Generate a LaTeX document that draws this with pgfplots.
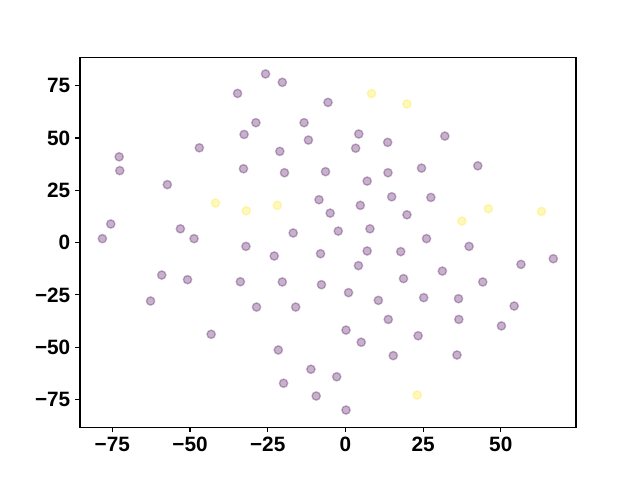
\documentclass[border=0pt]{standalone}
\usepackage{pgfplots}
\pgfplotsset{compat=1.18}
\usepackage{fontspec}
\setmainfont{Liberation Sans}
\definecolor{vlow}{HTML}{440154}
\definecolor{vhigh}{HTML}{FDE725}

\begin{document}
\begin{tikzpicture}
\useasboundingbox (0,0) rectangle (6.4in,4.8in);
\begin{axis}[
  at={(0.8in,0.528in)},anchor=south west,
  scale only axis,width=4.96in,height=3.696in,
  xmin=-85.4,xmax=74.2,ymin=-88.2,ymax=88.4,
  xtick={-75,-50,-25,0,25,50},
  xticklabels={−75,−50,−25,0,25,50},
  ytick={-75,-50,-25,0,25,50,75},
  yticklabels={−75,−50,−25,0,25,50,75},
  xtick pos=bottom,ytick pos=left,
  tick align=outside,major tick length=3.5pt,
  tick style={line width=0.8pt,black},
  axis line style={line width=0.8pt},
  ticklabel style={font=\bfseries\fontsize{15}{18}\selectfont},
  scatter/use mapped color={},
  mark size=3pt]
\addplot[only marks,mark=*,mark options={line width=1pt,draw=vlow,fill=vlow,opacity=0.3}] coordinates {
(-34.7,71.3)(-32.6,51.7)(-47.0,45.3)(-72.8,41.0)(-72.6,34.4)(-32.8,35.3)
(-57.3,27.7)(-75.5,8.9)(-53.1,6.6)(-78.2,1.9)(-48.7,1.9)(-25.7,80.6)
(-20.3,76.6)(-5.6,67.0)(-28.8,57.3)(-13.3,57.3)(-11.9,49.0)(4.3,51.9)
(13.6,47.9)(-21.1,43.6)(3.3,45.1)(-19.6,33.4)(-6.4,33.9)(13.7,33.4)
(7.0,29.4)(14.9,21.9)(-8.5,20.5)(4.8,17.8)(-4.9,14.1)(19.8,13.3)
(-16.8,4.6)(-2.3,5.5)(7.9,6.6)(32.0,50.9)(24.5,35.6)(42.6,36.7)
(27.5,21.6)(26.1,1.9)(39.8,-1.8)(-32.0,-1.8)(-59.1,-15.5)(-50.8,-17.7)
(-33.8,-18.7)(-62.7,-27.9)(-43.2,-43.8)(-22.9,-6.4)(-8.0,-5.3)(7.0,-4.0)
(17.8,-4.3)(4.2,-11.0)(-20.3,-18.8)(-7.7,-20.1)(18.7,-17.2)(1.0,-23.9)
(10.6,-27.6)(-28.6,-30.8)(-16.0,-30.8)(13.8,-36.7)(0.2,-41.8)(5.1,-47.6)
(-21.6,-51.3)(15.4,-54.0)(-11.1,-60.5)(-2.8,-64.1)(-19.9,-67.2)(-9.4,-73.3)
(0.2,-80.0)(23.4,-44.5)(66.9,-7.7)(56.5,-10.4)(31.2,-13.6)(44.2,-18.8)
(25.2,-26.3)(36.4,-26.8)(54.3,-30.3)(36.5,-36.7)(50.2,-39.8)(35.9,-53.7)
};
\addplot[only marks,mark=*,mark options={line width=1pt,draw=vhigh,fill=vhigh,opacity=0.3}] coordinates {
(-41.8,18.9)(-31.9,15.2)(8.4,71.2)(19.8,66.2)(-21.9,17.8)
(46.0,16.2)(63.1,14.9)(37.5,10.3)(23.1,-72.8)
};
\end{axis}
\end{tikzpicture}
\end{document}
